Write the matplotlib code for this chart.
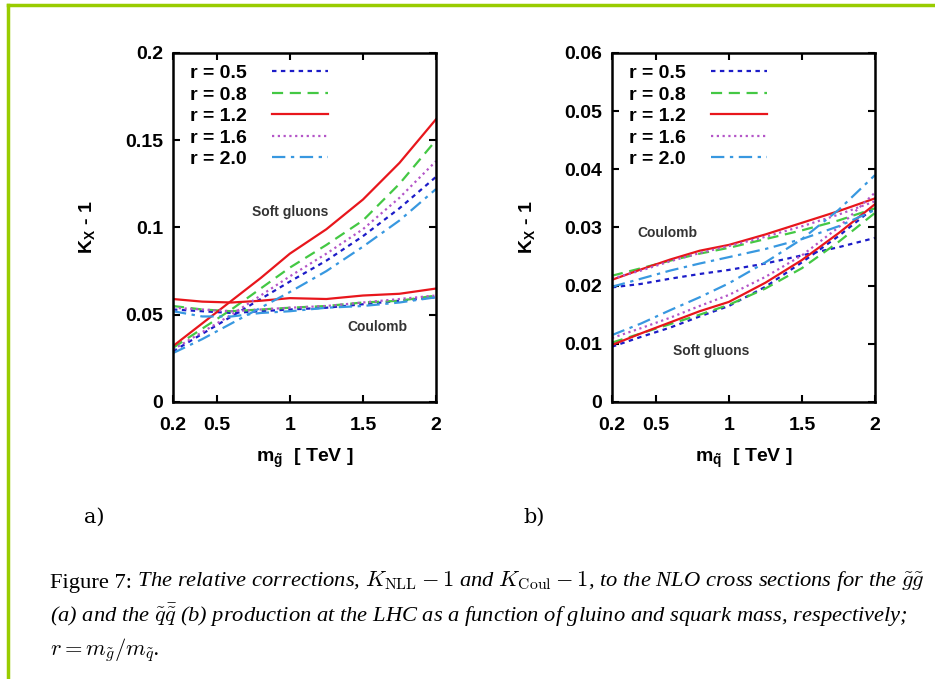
import matplotlib
matplotlib.use("Agg")
import matplotlib.pyplot as plt
from matplotlib.lines import Line2D

plt.rcParams["font.family"] = ["Liberation Sans", "DejaVu Sans"]
plt.rcParams["mathtext.fontset"] = "custom"
plt.rcParams["mathtext.rm"] = "Liberation Sans:bold"
plt.rcParams["mathtext.it"] = "Liberation Sans:bold"
plt.rcParams["mathtext.bf"] = "Liberation Sans:bold"

# mass grid (TeV)
mass = [0.2, 0.4, 0.6, 0.8, 1.0, 1.25, 1.5, 1.75, 2.0]
r_labels = ["r = 0.5", "r = 0.8", "r = 1.2", "r = 1.6", "r = 2.0"]

# panel a) gluino pair: soft gluon (NLL) corrections
a_soft_05 = [0.029, 0.039, 0.049, 0.059, 0.069, 0.081, 0.095, 0.111, 0.129]
a_soft_08 = [0.031, 0.042, 0.053, 0.065, 0.077, 0.090, 0.104, 0.125, 0.150]
a_soft_12 = [0.032, 0.045, 0.058, 0.071, 0.085, 0.099, 0.116, 0.137, 0.162]
a_soft_16 = [0.030, 0.040, 0.050, 0.061, 0.072, 0.085, 0.099, 0.117, 0.138]
a_soft_20 = [0.028, 0.036, 0.045, 0.054, 0.063, 0.075, 0.089, 0.104, 0.122]
# panel a) Coulomb corrections
a_coul_05 = [0.053, 0.052, 0.051, 0.052, 0.053, 0.054, 0.056, 0.058, 0.060]
a_coul_08 = [0.055, 0.053, 0.052, 0.053, 0.054, 0.055, 0.057, 0.058, 0.061]
a_coul_12 = [0.059, 0.0575, 0.057, 0.058, 0.0595, 0.059, 0.061, 0.062, 0.065]
a_coul_16 = [0.054, 0.053, 0.052, 0.053, 0.054, 0.055, 0.057, 0.059, 0.061]
a_coul_20 = [0.052, 0.049, 0.049, 0.051, 0.052, 0.054, 0.055, 0.057, 0.060]

# panel b) squark-antisquark: soft gluon corrections
b_soft_05 = [0.0095, 0.0112, 0.0128, 0.0147, 0.0165, 0.0198, 0.0240, 0.0285, 0.0335]
b_soft_08 = [0.0102, 0.0118, 0.0134, 0.0150, 0.0167, 0.0195, 0.0230, 0.0275, 0.0325]
b_soft_12 = [0.0098, 0.0118, 0.0137, 0.0156, 0.0172, 0.0205, 0.0244, 0.0290, 0.0340]
b_soft_16 = [0.0110, 0.0127, 0.0145, 0.0165, 0.0184, 0.0215, 0.0252, 0.0300, 0.0360]
b_soft_20 = [0.0115, 0.0135, 0.0158, 0.0180, 0.0204, 0.0240, 0.0280, 0.0330, 0.0390]
# panel b) Coulomb corrections
b_coul_05 = [0.0197, 0.0203, 0.0212, 0.0220, 0.0227, 0.0238, 0.0252, 0.0266, 0.0282]
b_coul_08 = [0.0217, 0.0230, 0.0243, 0.0255, 0.0265, 0.0280, 0.0295, 0.0312, 0.0333]
b_coul_12 = [0.0210, 0.0228, 0.0245, 0.0260, 0.0270, 0.0288, 0.0308, 0.0328, 0.0350]
b_coul_16 = [0.0212, 0.0226, 0.0242, 0.0256, 0.0268, 0.0284, 0.0302, 0.0322, 0.0345]
b_coul_20 = [0.0198, 0.0212, 0.0226, 0.0238, 0.0249, 0.0263, 0.0280, 0.0302, 0.0330]

colors = ["#1c1cc8", "#44c844", "#e8161c", "#b455c8", "#3898e0"]
dashes = [(2, 2), (5, 3), (), (1, 1.6), (6, 2.5, 1.5, 2.5)]

fig = plt.figure(figsize=(9.35, 6.79), dpi=100)


def draw_panel(ax, soft, coul, ymax, yticks, xlabel):
    for i in range(5):
        kw = dict(color=colors[i], lw=1.6)
        ls = "-" if not dashes[i] else (0, dashes[i])
        ax.plot(mass, soft[i], linestyle=ls, label=r_labels[i], **kw)
        ax.plot(mass, coul[i], linestyle=ls, **kw)
    ax.set_xlim(0.2, 2.0)
    ax.set_ylim(0, ymax)
    ax.set_xticks([0.2, 0.5, 1, 1.5, 2])
    ax.set_xticklabels(["0.2", "0.5", "1", "1.5", "2"])
    ax.set_yticks(yticks)
    ax.set_yticklabels([("%g" % t) for t in yticks])
    ax.tick_params(direction="in", top=True, right=True, length=5, width=1.5,
                   labelsize=14, pad=7)
    ax.tick_params(axis="x", pad=11)
    for lab in ax.get_xticklabels() + ax.get_yticklabels():
        lab.set_fontweight("bold")
    for sp in ax.spines.values():
        sp.set_linewidth(1.8)
    ax.set_xlabel(xlabel, fontsize=14, fontweight="bold", labelpad=9)
    ax.set_ylabel(r"K$_\mathrm{X}$ - 1", fontsize=14, fontweight="bold", labelpad=20)
    leg = ax.legend(loc="upper left", frameon=False, markerfirst=False,
                    handlelength=2.9, handletextpad=1.3, labelspacing=0.2,
                    borderaxespad=0.2, prop={"weight": "bold", "size": 14},
                    bbox_to_anchor=(0.02, 1.0))
    return leg


ax_a = fig.add_axes([0.185, 0.408, 0.2813, 0.514])
draw_panel(ax_a,
           [a_soft_05, a_soft_08, a_soft_12, a_soft_16, a_soft_20],
           [a_coul_05, a_coul_08, a_coul_12, a_coul_16, a_coul_20],
           0.2, [0, 0.05, 0.1, 0.15, 0.2], r"m$_{\tilde{g}}$  [ TeV ]")
ax_a.text(1.0, 0.109, "Soft gluons", ha="center", va="center", fontsize=10,
          fontweight="bold", color="#333333")
ax_a.text(1.6, 0.043, "Coulomb", ha="center", va="center", fontsize=10,
          fontweight="bold", color="#333333")

ax_b = fig.add_axes([0.6545, 0.408, 0.2813, 0.514])
draw_panel(ax_b,
           [b_soft_05, b_soft_08, b_soft_12, b_soft_16, b_soft_20],
           [b_coul_05, b_coul_08, b_coul_12, b_coul_16, b_coul_20],
           0.06, [0, 0.01, 0.02, 0.03, 0.04, 0.05, 0.06], r"m$_{\tilde{q}}$  [ TeV ]")
ax_b.text(0.58, 0.0290, "Coulomb", ha="center", va="center", fontsize=10,
          fontweight="bold", color="#333333")
ax_b.text(0.88, 0.0088, "Soft gluons", ha="center", va="center", fontsize=10,
          fontweight="bold", color="#333333")

# panel labels
serif = ["DejaVu Serif"]
fig.text(84 / 935, 1 - 517 / 679, "a)", fontsize=15, family=serif, ha="left", va="center")
fig.text(523 / 935, 1 - 517 / 679, "b)", fontsize=15, family=serif, ha="left", va="center")

# caption
plt.rcParams["mathtext.fontset"] = "cm"
cap_fs = 16.2
t1 = fig.text(50 / 935, 1 - 588 / 679, "Figure 7:", fontsize=cap_fs,
              family=["Liberation Serif"], va="baseline")
ax_a.annotate(" The relative corrections, $K_{\\rm NLL}-1$ and $K_{\\rm Coul}-1$, to the NLO "
              "cross sections for the $\\tilde{g}\\tilde{g}$",
              xy=(1, 0), xycoords=t1, va="bottom", fontsize=cap_fs,
              family=["Liberation Serif"], style="italic", annotation_clip=False)
fig.text(50 / 935, 1 - 622 / 679,
         "(a) and the $\\tilde{q}\\bar{\\tilde{q}}$ (b) production at the LHC as a function "
         "of gluino and squark mass, respectively;",
         fontsize=cap_fs, family=["Liberation Serif"], style="italic", va="baseline")
fig.text(50 / 935, 1 - 656 / 679, "$r = m_{\\tilde{g}}/m_{\\tilde{q}}$.",
         fontsize=cap_fs, family=["Liberation Serif"], style="italic", va="baseline")

# green frame
green = "#99cc00"
fig.add_artist(Line2D([8 / 935, 1.0], [1 - 5 / 679, 1 - 5 / 679], color=green,
                      lw=2.5, transform=fig.transFigure))
fig.add_artist(Line2D([8 / 935, 8 / 935], [0, 1 - 5 / 679], color=green,
                      lw=2.5, transform=fig.transFigure))

fig.savefig("out.png", dpi=100)
